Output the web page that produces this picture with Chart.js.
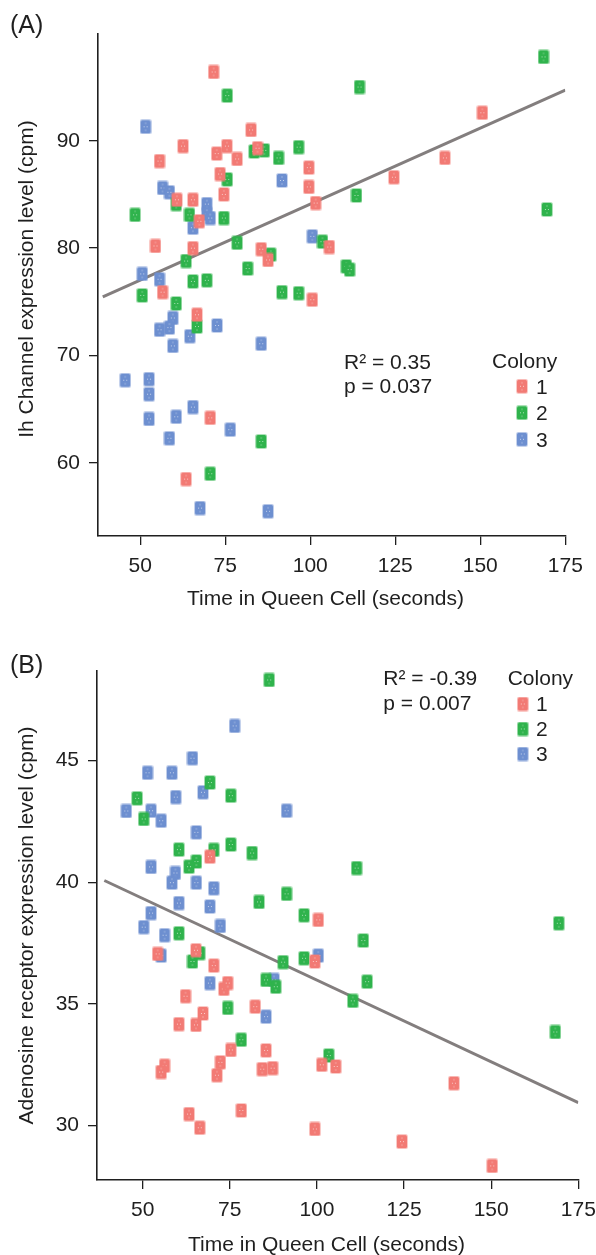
<!DOCTYPE html>
<html>
<head>
<meta charset="utf-8">
<script src="https://cdn.jsdelivr.net/npm/chart.js@4.4.1/dist/chart.umd.min.js"></script>
<style>
  body { margin: 0; background: #fff; }
  canvas { position: absolute; left: 0; }
</style>
</head>
<body>
<canvas id="chartA" width="596" height="620" style="top:0"></canvas>
<canvas id="chartB" width="596" height="635" style="top:620px"></canvas>
<script>
// Colonies and their colours
const colonies = ['1', '2', '3'];
const colonyColors = ['#f27a74', '#2fb34c', '#6d8fd0'];

// (A) Ih channel expression vs. time in queen cell
const ihTime1 = [71.6, 82.6, 62.6, 75.5, 72.5, 84.5, 55.7, 78.5, 73.5, 60.8, 65.5, 74.6, 67.4, 54.5, 65.5,
  85.6, 87.6, 56.6, 66.7, 70.6, 63.5, 150.6, 139.6, 99.6, 124.6, 99.6, 101.6, 105.6, 100.6];
const ihLevel1 = [96.4, 91.0, 89.5, 89.5, 88.8, 89.3, 88.1, 88.3, 86.9, 84.5, 84.5, 85.0, 82.5, 80.2, 80.0,
  79.9, 78.9, 75.9, 73.8, 64.2, 58.5, 92.6, 88.4, 87.5, 86.6, 85.7, 84.2, 80.1, 75.2];
const ihTime2 = [75.6, 83.5, 86.5, 90.7, 96.6, 75.6, 60.6, 64.5, 48.5, 74.6, 78.5, 88.4, 63.5, 81.6, 65.5,
  69.6, 50.6, 91.7, 96.6, 60.6, 66.7, 85.6, 70.6, 168.6, 114.5, 113.6, 169.6, 103.6, 110.6, 111.6];
const ihLevel2 = [94.2, 89.0, 89.1, 88.4, 89.4, 86.4, 84.1, 83.1, 83.1, 82.8, 80.5, 79.4, 78.8, 78.1, 76.9,
  77.0, 75.6, 75.9, 75.8, 74.85, 72.7, 62.0, 59.0, 97.8, 95.0, 84.9, 83.6, 80.6, 78.3, 78.0];
const ihTime3 = [51.6, 91.7, 56.6, 58.6, 69.6, 69.6, 70.6, 65.5, 50.6, 55.7, 59.6, 55.7, 58.6, 72.6, 64.6,
  59.6, 85.6, 45.6, 52.6, 52.6, 65.5, 60.6, 52.6, 76.5, 58.6, 67.6, 87.6, 100.6];
const ihLevel3 = [91.3, 86.3, 85.6, 85.2, 84.1, 83.2, 82.8, 81.9, 77.6, 77.1, 73.5, 72.4, 72.6, 72.8, 71.8,
  70.9, 71.1, 67.7, 67.8, 66.4, 65.2, 64.3, 64.1, 63.1, 62.3, 55.8, 55.5, 81.1];
const ihFitTime = [39, 175];
const ihFitLevel = [75.46, 94.7];

// (B) adenosine receptor expression vs. time in queen cell
const adTime1 = [69.3, 100.4, 54.3, 65.3, 70.4, 73.3, 74.4, 62.3, 82.3, 60.4, 65.3, 67.3, 75.3, 85.4, 72.3,
  56.3, 55.3, 71.3, 84.3, 87.3, 63.3, 78.3, 66.4, 99.4, 101.4, 105.4, 139.3, 99.4, 124.4, 150.3];
const adLevel1 = [41.05, 38.45, 37.05, 37.2, 36.57, 35.61, 35.85, 35.31, 34.88, 34.16, 34.13, 34.6, 33.1, 33.08, 32.59,
  32.45, 32.19, 32.06, 32.31, 32.35, 30.46, 30.61, 29.9, 36.74, 32.49, 32.42, 31.73, 29.85, 29.33, 28.33];
const adTime2 = [86.3, 69.3, 48.4, 75.3, 50.3, 60.4, 70.4, 75.3, 81.4, 65.4, 63.3, 91.3, 83.4, 60.4, 111.4,
  96.3, 113.3, 169.4, 66.4, 64.3, 90.3, 85.4, 88.2, 74.4, 78.3, 96.3, 114.4, 110.3, 168.4, 103.4];
const adLevel2 = [48.32, 44.1, 43.45, 43.56, 42.6, 41.34, 41.33, 41.55, 41.2, 40.85, 40.64, 39.52, 39.19, 37.9, 40.58,
  38.64, 37.6, 38.31, 37.08, 36.74, 36.71, 35.98, 35.7, 34.83, 33.52, 36.87, 35.91, 35.12, 33.84, 32.87];
const adTime3 = [76.4, 64.3, 51.4, 58.4, 67.3, 59.5, 45.3, 52.4, 55.3, 91.3, 65.4, 52.4, 59.4, 58.4, 65.4,
  70.4, 60.4, 69.3, 52.4, 72.3, 50.3, 56.3, 55.3, 69.3, 87.7, 85.4, 100.4];
const adLevel3 = [46.43, 45.1, 44.5, 44.5, 43.7, 43.5, 42.93, 42.94, 42.53, 42.94, 42.05, 40.63, 40.38, 39.98, 39.98,
  39.75, 39.14, 39.0, 38.73, 38.2, 38.15, 37.82, 36.98, 35.85, 35.98, 34.47, 36.98];
const adFitTime = [39, 175];
const adFitLevel = [40.07, 30.93];

const xTicks = [50, 75, 100, 125, 150, 175];
const ihTicks = [60, 70, 80, 90];
const adTicks = [30, 35, 40, 45];

const FONT = '"Liberation Sans", Arial, Helvetica, sans-serif';
const INK = '#1f1f1f';

function toPoints(xs, ys) {
  return xs.map((x, i) => ({ x: x, y: ys[i] }));
}

// small rounded square marker with a light rim and faint speckles
function makeMarker(color) {
  const c = document.createElement('canvas');
  c.width = 12; c.height = 15;
  const g = c.getContext('2d');
  g.fillStyle = color;
  g.globalAlpha = 0.4;
  g.beginPath(); g.roundRect(0, 0, 12, 15, 2.5); g.fill();
  g.globalAlpha = 1;
  g.beginPath(); g.roundRect(1, 1, 10, 13, 1.5); g.fill();
  g.fillStyle = 'rgba(255,255,255,0.6)';
  [[6, 4], [4.5, 7.5], [7.5, 7.5], [6, 11]].forEach(p => g.fillRect(p[0] - 0.5, p[1] - 0.5, 1, 1));
  return c;
}
const markers = colonyColors.map(makeMarker);

function axis(min, max, ticks, fit) {
  return {
    type: 'linear',
    min: min,
    max: max,
    afterBuildTicks: s => { s.ticks = ticks.map(v => ({ value: v })); },
    afterFit: fit,
    grid: { drawOnChartArea: false, tickLength: 9, color: INK, lineWidth: 1.3 },
    border: { color: INK, width: 1.6 },
    ticks: { font: { family: FONT, size: 21 }, color: INK, padding: 9 }
  };
}

// titles, statistics and the colony key
const panelText = {
  id: 'panelText',
  afterDraw(chart, args, opts) {
    const ctx = chart.ctx;
    ctx.save();
    ctx.fillStyle = INK;
    ctx.textBaseline = 'alphabetic';
    opts.items.forEach(t => {
      ctx.font = (t.size || 21) + 'px ' + FONT;
      ctx.textAlign = t.align || 'left';
      ctx.save();
      ctx.translate(t.x, t.y);
      if (t.rotate) ctx.rotate(-Math.PI / 2);
      ctx.fillText(t.text, 0, 0);
      ctx.restore();
    });
    const k = opts.key;
    ctx.font = '21px ' + FONT;
    ctx.textAlign = 'left';
    ctx.fillText('Colony', k.titleX, k.titleY);
    colonies.forEach((name, i) => {
      const my = k.markY + i * k.step;
      const m = markers[i];
      ctx.drawImage(m, k.markX - m.width / 2, my - m.height / 2);
      ctx.fillText(name, k.labelX, my + 7.3);
    });
    ctx.restore();
  }
};

function makePanel(id, series, fit, xRange, yRange, yTicks, area, text) {
  const datasets = series.map((s, i) => ({
    label: colonies[i],
    data: toPoints(s[0], s[1]),
    pointStyle: markers[i],
    order: 1
  }));
  datasets.push({
    label: 'fit',
    data: toPoints(fit[0], fit[1]),
    showLine: true,
    borderColor: '#837e7e',
    borderWidth: 3,
    pointRadius: 0,
    order: 5
  });
  const canvas = document.getElementById(id);
  return new Chart(canvas, {
    type: 'scatter',
    data: { datasets: datasets },
    options: {
      responsive: false,
      animation: false,
      events: [],
      layout: { padding: { top: area.top, right: canvas.width - area.right, left: 0, bottom: 0 } },
      scales: {
        x: axis(xRange[0], xRange[1], xTicks, s => {
          // the end labels may hang past the axis, keep the plot width fixed
          s.height = canvas.height - area.bottom;
          s.paddingLeft = 0;
          s.paddingRight = 0;
        }),
        y: axis(yRange[0], yRange[1], yTicks, s => { s.width = area.left; })
      },
      plugins: {
        legend: { display: false },
        tooltip: { enabled: false },
        panelText: text
      }
    },
    plugins: [panelText]
  });
}

makePanel('chartA',
  [[ihTime1, ihLevel1], [ihTime2, ihLevel2], [ihTime3, ihLevel3]],
  [ihFitTime, ihFitLevel],
  [37.6, 175], [53.2, 100], ihTicks,
  { left: 98, right: 565.3, top: 33.3, bottom: 536 },
  {
    items: [
      { text: '(A)', x: 10, y: 33.3, size: 25 },
      { text: 'Ih Channel expression level (cpm)', x: 33, y: 279, align: 'center', rotate: true },
      { text: 'Time in Queen Cell (seconds)', x: 325.5, y: 605, align: 'center' },
      { text: 'R\u00b2 = 0.35', x: 344, y: 369.3 },
      { text: 'p = 0.037', x: 344, y: 393 }
    ],
    key: { titleX: 492, titleY: 368.3, markX: 522, markY: 386.3, step: 26.5, labelX: 536 }
  });

makePanel('chartB',
  [[adTime1, adLevel1], [adTime2, adLevel2], [adTime3, adLevel3]],
  [adFitTime, adFitLevel],
  [36.9, 175], [27.75, 48.7], adTicks,
  { left: 97, right: 578.3, top: 50.7, bottom: 560 },
  {
    items: [
      { text: '(B)', x: 10, y: 52.7, size: 25 },
      { text: 'Adenosine receptor expression level (cpm)', x: 33, y: 305.5, align: 'center', rotate: true },
      { text: 'Time in Queen Cell (seconds)', x: 326.5, y: 631, align: 'center' },
      { text: 'R\u00b2 = -0.39', x: 383.3, y: 65 },
      { text: 'p = 0.007', x: 383.3, y: 90 }
    ],
    key: { titleX: 507.7, titleY: 65, markX: 522.8, markY: 84, step: 25, labelX: 536 }
  });
</script>
</body>
</html>
